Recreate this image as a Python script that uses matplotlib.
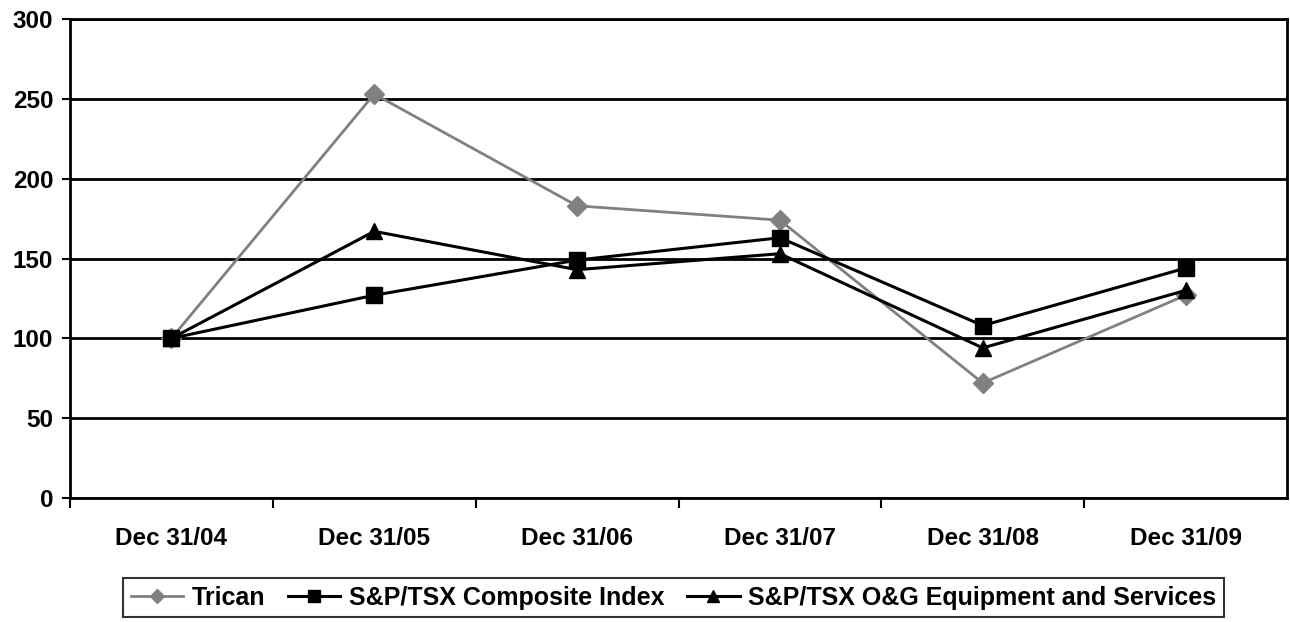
import matplotlib.pyplot as plt
import numpy as np

plt.rcParams['font.family'] = ['Liberation Sans', 'DejaVu Sans']
plt.rcParams['font.weight'] = 'bold'

years = ['Dec 31/04', 'Dec 31/05', 'Dec 31/06', 'Dec 31/07', 'Dec 31/08', 'Dec 31/09']
trican = [100, 253, 183, 174, 72, 127]
composite = [100, 127, 149, 163, 108, 144]
oilgas = [100, 167, 143, 153, 94, 130]

fig = plt.figure(figsize=(12.9, 6.22), dpi=100)
ax = fig.add_axes([70 / 1290, 124 / 622, 1217 / 1290, 479 / 622])

x = np.arange(len(years)) + 0.5
ax.plot(x, trican, color='#808080', lw=2, marker='D', ms=10, label='Trican', zorder=3)
ax.plot(x, composite, color='black', lw=2.2, marker='s', ms=12, label='S&P/TSX Composite Index', zorder=4)
ax.plot(x, oilgas, color='black', lw=2.2, marker='^', ms=12, label='S&P/TSX O&G Equipment and Services', zorder=5)

ax.set_xlim(0, len(years))
ax.set_ylim(0, 300)
ax.set_yticks(np.arange(0, 301, 50))
ax.yaxis.grid(True, color='black', lw=2)
ax.set_axisbelow(True)
ax.set_xticks(np.arange(len(years)))
ax.set_xticklabels([])
ax.set_xticks(x, minor=True)
ax.set_xticklabels(years, minor=True)
ax.tick_params(axis='x', which='minor', length=0, pad=21, labelsize=17.5)
ax.tick_params(axis='x', which='major', length=7, width=1.5)
ax.tick_params(axis='y', length=6, width=1.5, labelsize=17.5, pad=6)
for s in ax.spines.values():
    s.set_linewidth(2)

leg = ax.legend(loc='upper center', bbox_to_anchor=(0.496, -0.168), ncol=3, frameon=True,
                fancybox=False, edgecolor='black', fontsize=18, handlelength=2.1,
                handletextpad=0.35, columnspacing=0.9, borderpad=0.3, markerscale=0.7,
                borderaxespad=0)
leg.get_frame().set_linewidth(1.5)

fig.savefig('out.png', dpi=100, facecolor='white')
